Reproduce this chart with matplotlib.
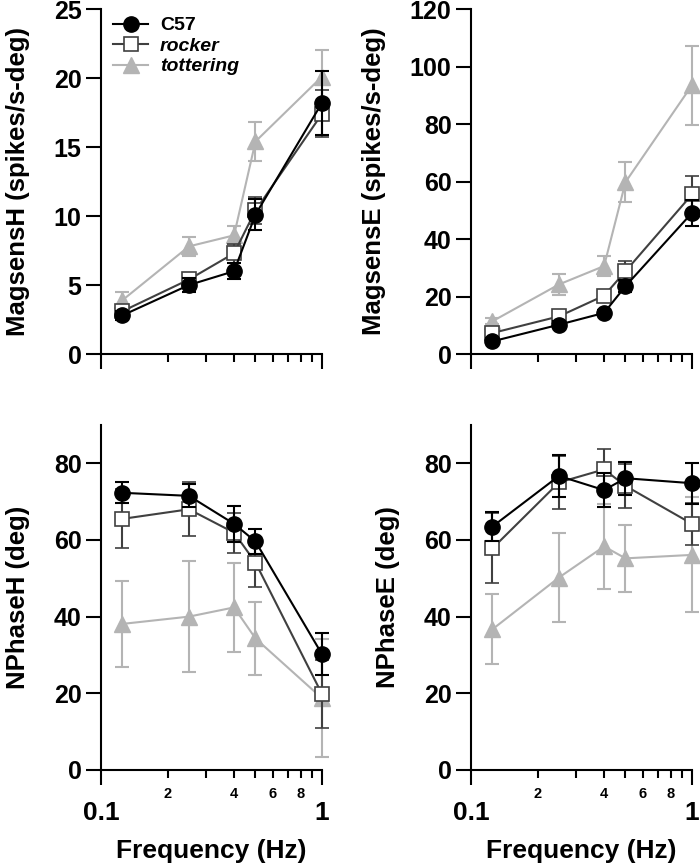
import matplotlib
matplotlib.use('Agg')
import matplotlib.pyplot as plt
from matplotlib.lines import Line2D
from matplotlib.ticker import FixedLocator, NullFormatter, FixedFormatter

plt.rcParams['font.family'] = ['Liberation Sans', 'DejaVu Sans']
plt.rcParams['font.weight'] = 'bold'

freq = [0.125, 0.25, 0.4, 0.5, 1.0]

# MagsensH
magh_c57 = [2.8, 5.0, 6.0, 10.1, 18.2]
magh_c57_err = [0.3, 0.5, 0.6, 1.1, 2.3]
magh_rock = [3.1, 5.4, 7.3, 10.4, 17.4]
magh_rock_err = [0.4, 0.5, 0.7, 1.0, 1.7]
magh_tot = [3.9, 7.8, 8.6, 15.4, 20.1]
magh_tot_err = [0.6, 0.7, 0.7, 1.4, 1.9]

# MagsensE
mage_c57 = [4.4, 10.2, 14.3, 23.6, 49.1]
mage_c57_err = [1.0, 1.2, 1.0, 2.2, 4.6]
mage_rock = [7.3, 13.1, 20.3, 28.8, 55.5]
mage_rock_err = [1.0, 1.5, 2.0, 3.5, 6.4]
mage_tot = [11.4, 24.2, 30.6, 59.8, 93.5]
mage_tot_err = [1.0, 3.5, 3.5, 7.0, 13.7]

# NPhaseH
phh_c57 = [72.3, 71.5, 64.2, 59.6, 30.2]
phh_c57_err = [2.7, 3.0, 4.7, 3.2, 5.5]
phh_rock = [65.5, 68.0, 61.9, 54.1, 19.8]
phh_rock_err = [7.7, 7.0, 5.2, 6.3, 8.9]
phh_tot = [38.1, 40.0, 42.4, 34.3, 18.7]
phh_tot_err = [11.2, 14.4, 11.6, 9.5, 15.4]

# NPhaseE
phe_c57 = [63.5, 76.7, 73.0, 76.1, 74.8]
phe_c57_err = [3.9, 5.5, 4.5, 4.3, 5.4]
phe_rock = [57.8, 75.0, 78.4, 74.1, 64.2]
phe_rock_err = [9.1, 7.0, 5.3, 5.8, 5.5]
phe_tot = [36.7, 50.2, 58.3, 55.2, 56.1]
phe_tot_err = [9.1, 11.6, 11.0, 8.7, 15.0]

c_black = 'black'
c_dark = '#404040'
c_light = '#b4b4b4'

fig = plt.figure(figsize=(7, 8.66), dpi=100)
w, h = 0.3157, 0.3984
ax_tl = fig.add_axes([0.1443, 0.5912, w, h])
ax_tr = fig.add_axes([0.6729, 0.5912, w, h])
ax_bl = fig.add_axes([0.1443, 0.1109, w, h])
ax_br = fig.add_axes([0.6729, 0.1109, w, h])


def draw(ax, c57, c57e, rock, rocke, tot, tote):
    ax.errorbar(freq, tot, yerr=tote, color=c_light, marker='^', ms=11,
                mfc=c_light, mec=c_light, lw=1.5, elinewidth=1.5, capsize=5,
                capthick=1.5, clip_on=False, zorder=3)
    ax.errorbar(freq, rock, yerr=rocke, color=c_dark, marker='s', ms=10,
                mfc='white', mec=c_dark, mew=1.2, lw=1.5, elinewidth=1.5,
                capsize=5, capthick=1.5, clip_on=False, zorder=4)
    ax.errorbar(freq, c57, yerr=c57e, color=c_black, marker='o', ms=11,
                mfc=c_black, mec=c_black, lw=1.5, elinewidth=1.5, capsize=5,
                capthick=1.5, clip_on=False, zorder=5)
    ax.set_xscale('log')
    ax.set_xlim(0.1, 1)
    for s in ['top', 'right']:
        ax.spines[s].set_visible(False)
    for s in ['left', 'bottom']:
        ax.spines[s].set_linewidth(1.5)
    ax.xaxis.set_major_locator(FixedLocator([0.1, 1]))
    ax.xaxis.set_minor_locator(FixedLocator([0.2, 0.3, 0.4, 0.5, 0.6, 0.7, 0.8, 0.9]))
    ax.tick_params(which='major', width=1.5, length=10.5, labelsize=18)
    ax.tick_params(which='minor', width=1.5, length=6)
    ax.tick_params(axis='x', which='major', pad=12, labelsize=19)
    ax.tick_params(axis='x', which='minor', labelsize=10.5, pad=6)


draw(ax_tl, magh_c57, magh_c57_err, magh_rock, magh_rock_err, magh_tot, magh_tot_err)
draw(ax_tr, mage_c57, mage_c57_err, mage_rock, mage_rock_err, mage_tot, mage_tot_err)
draw(ax_bl, phh_c57, phh_c57_err, phh_rock, phh_rock_err, phh_tot, phh_tot_err)
draw(ax_br, phe_c57, phe_c57_err, phe_rock, phe_rock_err, phe_tot, phe_tot_err)

ax_tl.set_ylim(0, 25)
ax_tl.set_yticks([0, 5, 10, 15, 20, 25])
ax_tr.set_ylim(0, 120)
ax_tr.set_yticks([0, 20, 40, 60, 80, 100, 120])
for ax in [ax_bl, ax_br]:
    ax.set_ylim(0, 90)
    ax.set_yticks([0, 20, 40, 60, 80])

for ax in [ax_tl, ax_tr]:
    ax.xaxis.set_major_formatter(NullFormatter())
    ax.xaxis.set_minor_formatter(NullFormatter())
for ax in [ax_bl, ax_br]:
    ax.xaxis.set_major_formatter(FixedFormatter(['0.1', '1']))
    ax.xaxis.set_minor_formatter(FixedFormatter(['2', '', '4', '', '6', '', '8', '']))
    ax.set_xlabel('Frequency (Hz)', fontsize=19, fontweight='bold', labelpad=10)

ax_tl.set_ylabel('MagsensH (spikes/s-deg)', fontsize=18.5, fontweight='bold', labelpad=17)
ax_tr.set_ylabel('MagsensE (spikes/s-deg)', fontsize=18.5, fontweight='bold', labelpad=17)
ax_bl.set_ylabel('NPhaseH (deg)', fontsize=18.5, fontweight='bold', labelpad=17)
ax_br.set_ylabel('NPhaseE (deg)', fontsize=18.5, fontweight='bold', labelpad=17)

# legend handles: line + marker only
handles = [
    Line2D([], [], color=c_black, marker='o', ms=11, lw=1.5),
    Line2D([], [], color=c_dark, marker='s', ms=10, mfc='white', mec=c_dark, mew=1.2, lw=1.5),
    Line2D([], [], color=c_light, marker='^', ms=11, lw=1.5),
]
labels = ['C57', 'rocker', 'tottering']
leg = ax_tl.legend(handles, labels, loc='upper left', frameon=False,
                   fontsize=14, handlelength=1.8, handletextpad=0.6,
                   labelspacing=0.15, borderaxespad=0.0,
                   bbox_to_anchor=(0.02, 1.0))
for t in leg.get_texts()[1:]:
    t.set_fontstyle('italic')

fig.savefig('out.png', dpi=100)
